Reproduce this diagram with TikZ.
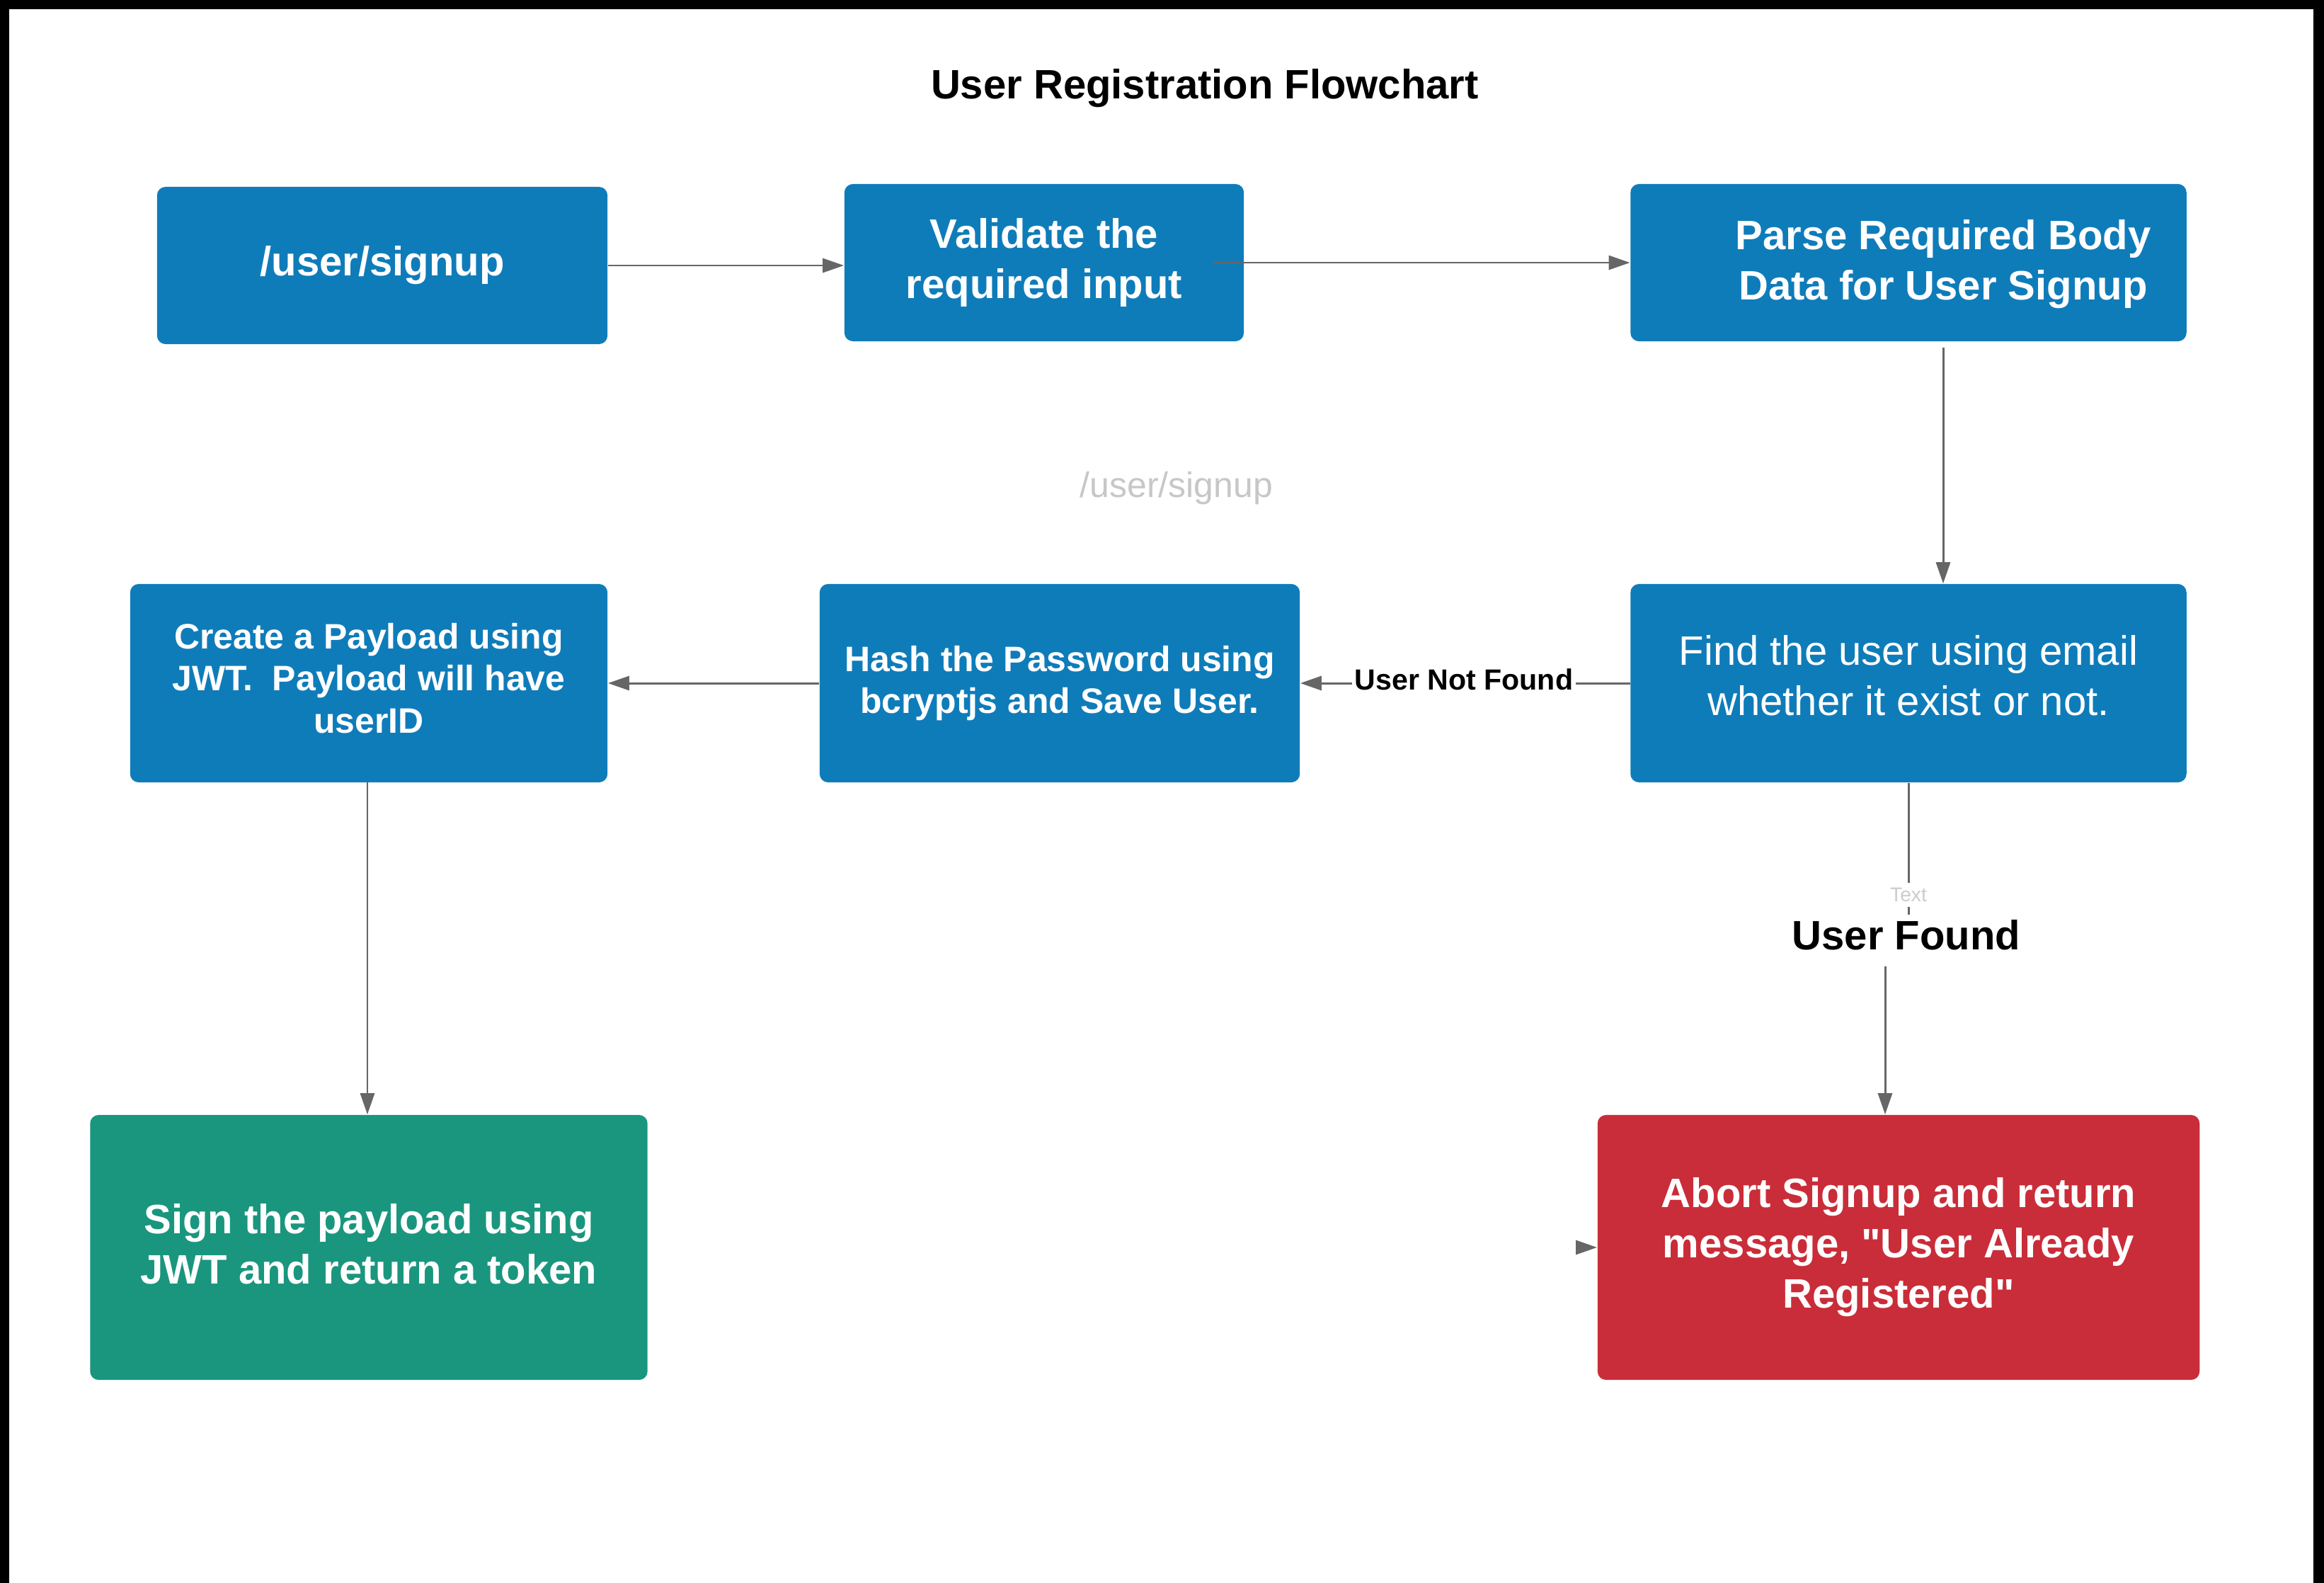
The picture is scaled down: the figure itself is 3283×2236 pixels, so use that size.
\documentclass[tikz,border=0pt]{standalone}
\usepackage{fontspec}
\setmainfont{Liberation Sans}[Ligatures=TeXOff]
\usetikzlibrary{arrows.meta}
\definecolor{lblue}{HTML}{0F7CBA}
\definecolor{lgreen}{HTML}{1A967E}
\definecolor{lred}{HTML}{C92D39}
\definecolor{lgrey}{HTML}{666666}
\tikzset{
  box/.style={rectangle, rounded corners=0.12cm, inner sep=0pt, align=center, text=white},
  bluebox/.style={box, fill=lblue},
  big/.style={font=\fontsize{16.5}{20.2}\selectfont\bfseries},
  mid/.style={font=\fontsize{14.2}{17}\selectfont\bfseries},
  boxtext/.style={align=center, text=white, inner sep=0pt},
  arr/.style={draw=lgrey, line width=0.85pt, -{Triangle[length=0.3cm,width=0.2cm]}},
  conn/.style={draw=lgrey, line width=0.85pt},
  lbl/.style={fill=white, inner sep=1pt, text=black}
}
\begin{document}
\begin{tikzpicture}[x=0.01cm,y=-0.01cm]
\useasboundingbox (0,0) rectangle (3283,2236);
\fill[white] (0,0) rectangle (3283,2236);
% frame
\fill[black] (0,0) rectangle (3283,13);
\fill[black] (0,0) rectangle (13,2236);
\fill[black] (3268,0) rectangle (3283,2236);

\node[font=\fontsize{16.5}{20}\selectfont\bfseries] (title) at (1702,125) {User Registration Flowchart};

\node[text=black!22, font=\fontsize{14.2}{17}\selectfont] (wm) at (1662,690) {/user/signup};

\node[bluebox, big, minimum width=6.36cm, minimum height=2.22cm] (B1) at (540,375) {/user/signup};
\node[bluebox, big, minimum width=5.64cm, minimum height=2.22cm] (B2) at (1475,371) {Validate the\\required input};
\node[bluebox, minimum width=7.85cm, minimum height=2.22cm] (B3) at (2696,371) {};
\node[boxtext, big] (B3t) at (2745,373) {Parse Required Body\\Data for User Signup};
\node[bluebox, minimum width=7.85cm, minimum height=2.80cm] (B4) at (2696,965) {};
\node[boxtext, font=\fontsize{16.5}{20.2}\selectfont] (B4t) at (2696,954) {Find the user using email\\whether it exist or not.};
\node[bluebox, mid, minimum width=6.78cm, minimum height=2.80cm] (B5) at (1497,965) {Hash the Password using\\bcryptjs and Save User.};
\node[bluebox, minimum width=6.74cm, minimum height=2.80cm] (B6) at (521,965) {};
\node[boxtext, mid] (B6t) at (521,958) {Create a Payload using\\JWT.\ \ Payload will have\\userID};
\node[box, fill=lgreen, minimum width=7.87cm, minimum height=3.74cm] (B7) at (521,1762) {};
\node[boxtext, big] (B7t) at (521,1757) {Sign the payload using\\JWT and return a token};
\node[box, fill=lred, big, minimum width=8.50cm, minimum height=3.74cm] (B8) at (2682,1762) {Abort Signup and return\\message, "User Already\\Registered"};

% connectors
\draw[arr] (B1.east) -- (B1.east -| B2.west);
\draw[arr] ([xshift=-0.44cm]B2.east) -- (B3.west);
\coordinate (c3) at (2745,491);
\draw[arr] (c3) -- (c3 |- B4.north);
\draw[arr] (B4.west) -- (B5.east);
\node[lbl, font=\fontsize{11.7}{14}\selectfont\bfseries] (unf) at (2068,960) {User Not Found};
\draw[arr] (B5.west) -- (B6.east);
\coordinate (c6) at (519,1105);
\draw[arr] (c6) -- (c6 |- B7.north);

\node[text=black, font=\fontsize{16.5}{20}\selectfont\bfseries, inner sep=2pt] (uf) at (2693,1321) {User Found};
\draw[conn] (B4.south) -- (B4.south |- uf.north);
\node[fill=white, text=black!20, font=\fontsize{8}{9}\selectfont, inner sep=2pt] (tx) at (2696,1264) {Text};
\coordinate (c8) at (2663,1365);
\draw[arr] (c8) -- (c8 |- B8.north);
\coordinate (c9) at (2226,1762);
\draw[arr] (c9) -- (B8.west);
\end{tikzpicture}
\end{document}
